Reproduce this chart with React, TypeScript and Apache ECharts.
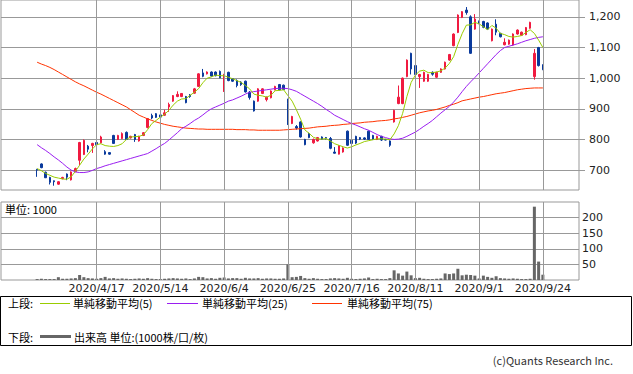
import React, { useEffect, useRef } from "react";
import * as echarts from "echarts";

const dates = [
  "2020/3/30", "2020/3/31",
  "2020/4/1", "2020/4/2", "2020/4/3", "2020/4/6", "2020/4/7", "2020/4/8", "2020/4/9", "2020/4/10",
  "2020/4/13", "2020/4/14", "2020/4/15", "2020/4/16", "2020/4/17", "2020/4/20", "2020/4/21", "2020/4/22",
  "2020/4/23", "2020/4/24", "2020/4/27", "2020/4/28", "2020/4/30",
  "2020/5/1", "2020/5/7", "2020/5/8", "2020/5/11", "2020/5/12", "2020/5/13", "2020/5/14", "2020/5/15",
  "2020/5/18", "2020/5/19", "2020/5/20", "2020/5/21", "2020/5/22", "2020/5/25", "2020/5/26", "2020/5/27",
  "2020/5/28", "2020/5/29",
  "2020/6/1", "2020/6/2", "2020/6/3", "2020/6/4", "2020/6/5", "2020/6/8", "2020/6/9", "2020/6/10",
  "2020/6/11", "2020/6/12", "2020/6/15", "2020/6/16", "2020/6/17", "2020/6/18", "2020/6/19", "2020/6/22",
  "2020/6/23", "2020/6/24", "2020/6/25", "2020/6/26", "2020/6/29", "2020/6/30",
  "2020/7/1", "2020/7/2", "2020/7/3", "2020/7/6", "2020/7/7", "2020/7/8", "2020/7/9", "2020/7/10",
  "2020/7/13", "2020/7/14", "2020/7/15", "2020/7/16", "2020/7/17", "2020/7/20", "2020/7/21", "2020/7/22",
  "2020/7/27", "2020/7/28", "2020/7/29", "2020/7/30", "2020/7/31",
  "2020/8/3", "2020/8/4", "2020/8/5", "2020/8/6", "2020/8/7", "2020/8/11", "2020/8/12", "2020/8/13",
  "2020/8/14", "2020/8/17", "2020/8/18", "2020/8/19", "2020/8/20", "2020/8/21", "2020/8/24", "2020/8/25",
  "2020/8/26", "2020/8/27", "2020/8/28", "2020/8/31",
  "2020/9/1", "2020/9/2", "2020/9/3", "2020/9/4", "2020/9/7", "2020/9/8", "2020/9/9", "2020/9/10",
  "2020/9/11", "2020/9/14", "2020/9/15", "2020/9/16", "2020/9/17", "2020/9/18", "2020/9/23", "2020/9/24",
];

const tickLabels = ["2020/4/17", "2020/5/14", "2020/6/4", "2020/6/25", "2020/7/16", "2020/8/11", "2020/9/1", "2020/9/24"];

const opens = [
  702, 720, 693, 676, 665, 654, 672, 687, 668, 695,
  732, 751, 778, 780, 790, 789, 760, 757, 813, 800,
  803, 823, 805, 816, 795, 813, 839, 878, 884, 880,
  879, 906, 925, 940, 940, 940, 945, 951, 973, 1017,
  1014, 1020, 1020, 1022, 998, 1019, 998, 992, 987, 990,
  954, 925, 925, 950, 930, 936, 962, 979, 977, 918,
  852, 842, 857, 800, 819, 789, 795, 808, 806, 803,
  759, 752, 759, 827, 797, 810, 806, 805, 827, 813,
  800, 810, 800, 795, 857, 917, 917, 1005, 1081, 1041,
  1005, 990, 990, 1019, 1003, 1019, 1030, 1059, 1106, 1149,
  1198, 1222, 1200, 1160, 1185, 1185, 1180, 1122, 1176, 1146,
  1109, 1111, 1108, 1144, 1140, 1142, 1163, 1005, 1100, 1043,
];

const closes = [
  700, 708, 675, 660, 662, 662, 676, 677, 694, 705,
  790, 797, 768, 787, 783, 808, 752, 752, 787, 813,
  819, 800, 810, 800, 810, 822, 868, 870, 872, 873,
  887, 914, 943, 947, 950, 920, 940, 965, 1014, 1006,
  1020, 1007, 1008, 1001, 1012, 992, 990, 976, 979, 955,
  937, 893, 965, 965, 938, 958, 973, 962, 963, 850,
  875, 837, 808, 783, 806, 800, 806, 801, 804, 771,
  755, 779, 772, 781, 787, 788, 801, 801, 800, 801,
  810, 798, 798, 781, 895, 938, 1000, 1059, 1030, 1012,
  1012, 1019, 1012, 1013, 1019, 1030, 1052, 1077, 1144, 1206,
  1217, 1214, 1081, 1193, 1179, 1166, 1160, 1160, 1150, 1135,
  1117, 1124, 1144, 1157, 1150, 1165, 1182, 1081, 1041, 1028,
];

const highs = [
  704, 722, 695, 678, 666, 664, 678, 689, 696, 708,
  792, 800, 782, 789, 792, 812, 765, 758, 815, 815,
  823, 826, 812, 818, 812, 824, 870, 884, 886, 886,
  897, 920, 945, 957, 951, 942, 948, 968, 1016, 1030,
  1022, 1022, 1022, 1025, 1014, 1021, 1000, 996, 990, 992,
  958, 927, 967, 967, 940, 960, 975, 981, 979, 933,
  877, 847, 859, 802, 822, 803, 808, 810, 808, 808,
  775, 781, 774, 829, 800, 812, 808, 807, 829, 815,
  812, 812, 802, 797, 897, 976, 1002, 1061, 1083, 1043,
  1014, 1021, 1014, 1022, 1021, 1032, 1054, 1079, 1146, 1208,
  1219, 1232, 1205, 1209, 1188, 1187, 1182, 1162, 1192, 1148,
  1130, 1126, 1146, 1159, 1152, 1167, 1184, 1095, 1102, 1045,
];

const lows = [
  678, 706, 674, 653, 649, 652, 670, 667, 666, 693,
  716, 749, 758, 756, 780, 787, 750, 750, 786, 798,
  801, 798, 803, 792, 793, 811, 836, 866, 870, 866,
  877, 890, 923, 938, 938, 918, 936, 949, 971, 1003,
  1012, 1005, 1006, 1000, 955, 990, 988, 970, 975, 953,
  930, 891, 923, 948, 924, 934, 960, 960, 961, 847,
  850, 832, 806, 781, 804, 786, 793, 799, 800, 768,
  754, 751, 757, 779, 785, 785, 798, 798, 798, 798,
  798, 795, 797, 776, 855, 915, 915, 1003, 1012, 1010,
  968, 988, 988, 1008, 1001, 1017, 1028, 1057, 1104, 1147,
  1196, 1207, 1079, 1158, 1176, 1163, 1158, 1120, 1140, 1133,
  1107, 1109, 1106, 1142, 1138, 1140, 1161, 995, 1038, 1026,
];

const volumes = [
  3, 4, 3, 3, 3, 9, 4, 4, 5, 6,
  16, 9, 6, 5, 4, 6, 10, 5, 6, 4,
  5, 4, 3, 4, 5, 4, 6, 4, 3, 3,
  4, 5, 6, 5, 4, 5, 3, 5, 10, 9,
  5, 6, 4, 7, 8, 5, 6, 6, 4, 7,
  5, 5, 6, 4, 5, 5, 4, 4, 5, 50,
  9, 10, 13, 6, 4, 6, 4, 3, 3, 5,
  6, 5, 4, 7, 4, 3, 4, 5, 8, 3,
  4, 3, 3, 6, 31, 21, 14, 27, 15, 6,
  7, 4, 3, 3, 4, 5, 21, 19, 21, 36,
  15, 17, 16, 14, 5, 14, 10, 7, 12, 6,
  5, 4, 5, 4, 3, 3, 4, 235, 59, 17,
];

const ma5 = [
  705, 698, 689, 683, 677, 674, 671, 670, 678, 696,
  716, 736, 752, 769, 783, 786, 780, 778, 777, 780,
  786, 800, 808, 809, 810, 815, 832, 852, 862, 873,
  882, 895, 912, 925, 932, 933, 944, 954, 966, 985,
  1000, 1004, 1010, 1008, 1008, 1003, 998, 992, 986, 976,
  965, 948, 944, 942, 938, 944, 959, 960, 962, 943,
  925, 897, 866, 831, 820, 807, 802, 801, 803, 795,
  786, 781, 776, 772, 776, 782, 787, 793, 796, 799,
  802, 802, 801, 799, 818, 845, 885, 940, 986, 1010,
  1023, 1026, 1018, 1018, 1020, 1024, 1033, 1048, 1070, 1110,
  1145, 1173, 1174, 1182, 1177, 1168, 1158, 1172, 1163, 1146,
  1142, 1136, 1134, 1136, 1139, 1149, 1158, 1146, 1124, 1100,
];

const ma25 = [
  783, 773, 764, 754, 743, 733, 722, 710, 700, 694,
  692, 692, 694, 699, 705, 709, 714, 718, 722, 726,
  730, 734, 738, 742, 746, 750, 754, 762, 770, 779,
  787, 798, 810, 822, 835, 843, 852, 862, 870, 880,
  891, 900, 906, 912, 918, 925, 929, 935, 941, 948,
  954, 956, 958, 960, 962, 964, 966, 967, 967, 966,
  962, 957, 949, 941, 933, 925, 917, 908, 898, 889,
  879, 872, 865, 858, 852, 847, 841, 835, 830, 823,
  816, 810, 806, 802, 800, 801, 804, 810, 817, 824,
  833, 843, 852, 862, 874, 886, 897, 908, 922, 938,
  956, 973, 988, 1002, 1017, 1032, 1047, 1062, 1077, 1090,
  1100, 1104, 1108, 1112, 1117, 1122, 1126, 1130, 1133, 1135,
];

const ma75 = [
  1052, 1046, 1041, 1035, 1028, 1020, 1012, 1004, 996, 988,
  981, 975, 968, 961, 954, 948, 941, 934, 927, 920,
  913, 906, 897, 888, 879, 873, 867, 862, 857, 853,
  849, 846, 843, 841, 839, 837, 836, 835, 834, 834,
  833, 833, 833, 833, 833, 833, 833, 832, 832, 832,
  831, 831, 830, 830, 830, 830, 830, 830, 831, 832,
  833, 834, 835, 836, 837, 839, 841, 842, 843, 845,
  846, 847, 849, 850, 852, 853, 854, 856, 857, 858,
  860, 861, 862, 864, 867, 869, 872, 875, 879, 883,
  887, 890, 893, 895, 898, 902, 906, 911, 915, 920,
  926, 929, 932, 935, 938, 940, 943, 946, 949, 951,
  953, 956, 959, 962, 964, 966, 967, 968, 968, 968,
];

const RED = "#f01a40";
const BLUE = "#0a3a9c";
const C_MA5 = "#99cc00";
const C_MA25 = "#9a1ef0";
const C_MA75 = "#ff3300";
const GRID = "#999999";
const VOL = "#666666";
const JP = '"Noto Sans CJK JP", sans-serif';
const NUM = '"DejaVu Sans", sans-serif';

export default function App() {
  const ref = useRef<HTMLDivElement>(null);

  useEffect(() => {
    if (!ref.current) return;
    const chart = echarts.init(ref.current, null, { renderer: "svg" });
    const PAD = 8;
    const pre = Array.from({ length: PAD }, (_, k) => `pre${k}`);
    const post = Array.from({ length: PAD }, (_, k) => `post${k}`);
    const cats = [...pre, ...dates, ...post];
    const padded = (arr: any[]) => [...Array(PAD).fill("-"), ...arr];
    const candles = dates.map((_, i) => [opens[i], closes[i], lows[i], highs[i]]);

    const vLines = (xi: number, yi: number) => ({
      type: "line",
      xAxisIndex: xi,
      yAxisIndex: yi,
      data: [],
      silent: true,
      z: 1,
      markLine: {
        silent: true,
        symbol: ["none", "none"],
        label: { show: false },
        lineStyle: { color: GRID, width: 1, type: "solid" },
        data: tickLabels.map((d) => ({ xAxis: d })),
        animation: false,
      },
    });

    const maLine = (data: number[], color: string) => ({
      type: "line",
      xAxisIndex: 0,
      yAxisIndex: 0,
      data: padded(data),
      symbol: "none",
      showSymbol: false,
      lineStyle: { color, width: 1 },
      z: 4,
      silent: true,
    });

    const text = (x: number, y: number, t: string, size = 11, family = JP, align = "left", fill = "#000") => ({
      type: "text",
      x,
      y,
      silent: true,
      style: {
        text: t,
        fill,
        font: `${size}px ${family}`,
        textAlign: align,
        textVerticalAlign: "middle",
      },
    });
    const hline = (x1: number, x2: number, y: number, color: string, w = 1) => ({
      type: "line",
      silent: true,
      shape: { x1, y1: y, x2, y2: y },
      style: { stroke: color, lineWidth: w },
    });

    chart.setOption({
      animation: false,
      backgroundColor: "#ffffff",
      grid: [
        { left: 1, top: -1, width: 578, height: 191, show: true, borderColor: GRID, borderWidth: 1, backgroundColor: "transparent" },
        { left: 1, top: 202, width: 578, height: 78, show: true, borderColor: GRID, borderWidth: 1, backgroundColor: "transparent" },
      ],
      xAxis: [
        {
          type: "category",
          gridIndex: 0,
          data: cats,
          boundaryGap: true,
          axisLine: { show: false },
          axisTick: { show: false },
          axisLabel: { show: false },
          splitLine: { show: false },
        },
        {
          type: "category",
          gridIndex: 1,
          data: cats,
          boundaryGap: true,
          axisLine: { show: false },
          axisTick: { show: false },
          splitLine: { show: false },
          axisLabel: {
            show: true,
            interval: (_i: number, v: string) => tickLabels.includes(v),
            fontSize: 11,
            fontFamily: NUM,
            color: "#222",
            margin: 3,
          },
        },
      ],
      yAxis: [
        {
          type: "value",
          gridIndex: 0,
          position: "right",
          min: 635,
          max: 1255,
          axisLine: { show: false },
          axisTick: { show: true, length: 6, lineStyle: { color: GRID } },
          axisLabel: {
            margin: 10,
            fontSize: 11,
            fontFamily: NUM,
            color: "#222",
            showMinLabel: false,
            showMaxLabel: false,
            formatter: (v: number) => v.toLocaleString("en-US"),
          },
          splitLine: { show: true, lineStyle: { color: GRID, width: 1 }, showMinLine: false, showMaxLine: false },
        },
        {
          type: "value",
          gridIndex: 1,
          position: "right",
          min: 0,
          max: 250,
          axisLine: { show: false },
          axisTick: { show: false },
          axisLabel: {
            margin: 3,
            fontSize: 11,
            fontFamily: NUM,
            color: "#222",
            formatter: (v: number) => (v > 0 && v < 250 ? String(v) : ""),
          },
          splitLine: { show: true, lineStyle: { color: GRID, width: 1 }, showMinLine: false, showMaxLine: false },
        },
      ],
      series: [
        vLines(0, 0),
        vLines(1, 1),
        {
          type: "candlestick",
          xAxisIndex: 0,
          yAxisIndex: 0,
          data: padded(candles),
          barWidth: 2,
          z: 3,
          silent: true,
          itemStyle: { color: RED, color0: BLUE, borderColor: RED, borderColor0: BLUE, borderWidth: 1 },
        },
        maLine(ma75, C_MA75),
        maLine(ma25, C_MA25),
        maLine(ma5, C_MA5),
        {
          type: "bar",
          xAxisIndex: 1,
          yAxisIndex: 1,
          data: padded(volumes),
          barWidth: 3,
          z: 3,
          silent: true,
          itemStyle: { color: VOL },
        },
      ],
      graphic: [
        text(5, 209, "単位: 1000", 11),
        {
          type: "rect",
          silent: true,
          shape: { x: 0.5, y: 296.5, width: 631, height: 49 },
          style: { fill: "none", stroke: "#000", lineWidth: 1 },
        },
        text(8, 303, "上段:", 11),
        hline(40, 70, 303.5, C_MA5),
        text(73, 303, "単純移動平均(5)", 11),
        hline(167, 198, 303.5, C_MA25),
        text(202, 303, "単純移動平均(25)", 11),
        hline(312, 342, 303.5, C_MA75),
        text(347, 303, "単純移動平均(75)", 11),
        text(8, 337, "下段:", 11),
        hline(40, 71, 336.5, VOL, 3),
        text(74, 337, "出来高 単位:(1000株/口/枚)", 11),
        text(613, 360, "(c)Quants Research Inc.", 11, JP, "right", "#333"),
      ],
    });

    return () => chart.dispose();
  }, []);

  return (
    <div
      ref={ref}
      style={{ position: "fixed", left: 0, top: 0, width: 633, height: 374, background: "#fff" }}
    />
  );
}
